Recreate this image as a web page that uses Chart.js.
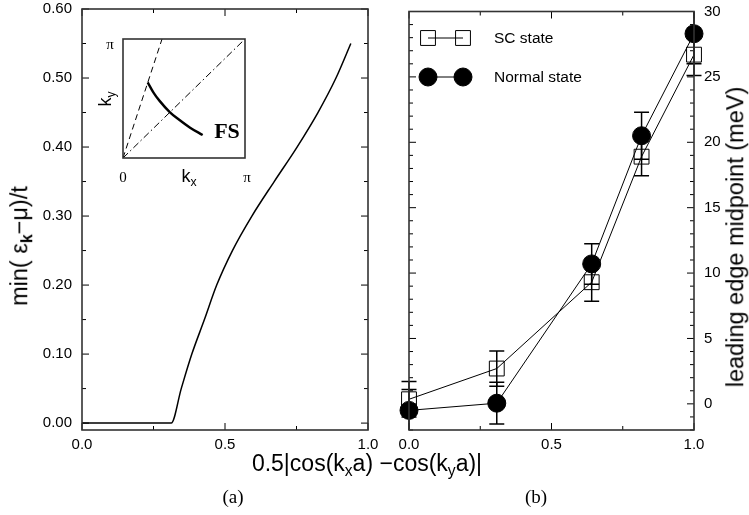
<!DOCTYPE html>
<html>
<head>
<meta charset="utf-8">
<script src="https://cdn.jsdelivr.net/npm/chart.js@4.4.1/dist/chart.umd.min.js"></script>
<style>
  body { margin: 0; background: #fff; width: 749px; height: 515px; position: relative; overflow: hidden; font-family: "Liberation Sans", Arial, sans-serif; }
  canvas { position: absolute; }
  .t { position: absolute; white-space: nowrap; color: #000; line-height: 1; transform: translate(-50%, -50%); z-index: 2; }
  .rot { transform: translate(-50%, -50%) rotate(-90deg); }
  .serif { font-family: "Liberation Serif", "DejaVu Serif", serif; }
  sub { font-size: 0.68em; vertical-align: -0.32em; line-height: 0; }
</style>
</head>
<body>
<canvas id="chartA" width="380" height="460" style="left:0;top:0"></canvas>
<canvas id="chartB" width="369" height="460" style="left:380px;top:0"></canvas>
<canvas id="inset" width="124" height="121" style="left:122px;top:38px"></canvas>

<div class="t rot" style="left:20px;top:246px;font-size:23.5px">min( ε<sub><b>k</b></sub>−μ)/t</div>
<div class="t rot" style="left:736px;top:237px;font-size:23.5px">leading edge midpoint (meV)</div>
<div class="t" style="left:367px;top:463px;font-size:23px">0.5|cos(k<sub>x</sub>a) −cos(k<sub>y</sub>a)|</div>
<div class="t serif" style="left:233px;top:496px;font-size:19px">(a)</div>
<div class="t serif" style="left:536px;top:496px;font-size:19px">(b)</div>

<div class="t serif" style="left:110px;top:44px;font-size:15px">π</div>
<div class="t serif" style="left:123px;top:177px;font-size:15px">0</div>
<div class="t serif" style="left:247px;top:177px;font-size:15px">π</div>
<div class="t" style="left:189px;top:176px;font-size:18px">k<sub>x</sub></div>
<div class="t rot" style="left:105px;top:99px;font-size:18px">k<sub>y</sub></div>
<div class="t serif" style="left:227px;top:131px;font-size:22px;font-weight:bold">FS</div>

<script>
// panel (a): min(eps_k - mu)/t along the Fermi surface
const curveX = [0, 0.312, 0.347, 0.384, 0.428, 0.471, 0.526, 0.594, 0.672, 0.752, 0.825, 0.888, 0.940];
const curveY = [0, 0, 0.05, 0.10, 0.15, 0.20, 0.25, 0.30, 0.35, 0.40, 0.45, 0.50, 0.55];

// inset: Fermi surface in units of pi
const fsX = [0.2025, 0.25, 0.30, 0.385, 0.45, 0.55, 0.653];
const fsY = [0.636, 0.55, 0.48, 0.384, 0.33, 0.255, 0.193];
const dashX = [0, 0.32];
const dashY = [0, 1];
const diagX = [0, 1];
const diagY = [0, 1];

// panel (b): leading edge midpoint (meV)
const cutX = [0, 0.308, 0.641, 0.816, 1.0];
const scState = [0.35, 2.7, 9.3, 18.9, 26.7];
const scErr = [1.35, 1.35, 1.45, 1.45, 1.6];
const normalState = [-0.5, 0.05, 10.7, 20.5, 28.3];
const normalErr = [1.6, 1.6, 1.55, 1.8, 2.3];

// ticks
const xMajor = [0, 0.5, 1.0];
const xMinor = [0.25, 0.75];
const aYMajor = [0, 0.1, 0.2, 0.3, 0.4, 0.5, 0.6];
const aYMinor = [0.05, 0.15, 0.25, 0.35, 0.45, 0.55];
const bYMajor = [0, 5, 10, 15, 20, 25, 30];
const bYMinor = [-2, -1, 1, 2, 3, 4, 6, 7, 8, 9, 11, 12, 13, 14, 16, 17, 18, 19, 21, 22, 23, 24, 26, 27, 28, 29];

const toPoints = (xs, ys) => xs.map((x, i) => ({ x: x, y: ys[i] }));
const tickFont = { family: '"Liberation Sans", Arial, sans-serif', size: 15 };

// inward ticks on all four sides plus the box frame
const frameTicks = {
    id: 'frameTicks',
    afterDraw(chart, args, opts) {
        if (!opts.xMajor) return;
        const { ctx, chartArea: a } = chart;
        const xs = chart.scales.x, ys = chart.scales.y;
        ctx.save();
        ctx.strokeStyle = '#000';
        ctx.lineWidth = 1;
        ctx.beginPath();
        const xTick = (v, len) => {
            const p = xs.getPixelForValue(v);
            ctx.moveTo(p, a.bottom); ctx.lineTo(p, a.bottom - len);
            ctx.moveTo(p, a.top); ctx.lineTo(p, a.top + len);
        };
        const yTick = (v, len) => {
            const p = ys.getPixelForValue(v);
            ctx.moveTo(a.left, p); ctx.lineTo(a.left + len, p);
            ctx.moveTo(a.right, p); ctx.lineTo(a.right - len, p);
        };
        opts.xMajor.forEach(v => xTick(v, 7));
        opts.xMinor.forEach(v => xTick(v, 4));
        opts.yMajor.forEach(v => yTick(v, 7));
        opts.yMinor.forEach(v => yTick(v, 4));
        ctx.stroke();
        ctx.strokeStyle = '#333';
        ctx.lineWidth = 1.6;
        ctx.strokeRect(a.left, a.top, a.right - a.left, a.bottom - a.top);
        ctx.restore();
    }
};

const errorBars = {
    id: 'errorBars',
    afterDatasetsDraw(chart) {
        const { ctx, chartArea: a } = chart;
        const xs = chart.scales.x, ys = chart.scales.y;
        ctx.save();
        ctx.beginPath();
        ctx.rect(a.left - 10, a.top, a.right - a.left + 20, a.bottom - a.top);
        ctx.clip();
        ctx.strokeStyle = '#000';
        ctx.lineWidth = 1.5;
        chart.data.datasets.forEach(ds => {
            if (!ds.errors) return;
            ds.data.forEach((pt, i) => {
                const e = ds.errors[i];
                const x = xs.getPixelForValue(pt.x);
                const lo = ys.getPixelForValue(pt.y - e);
                const hi = ys.getPixelForValue(pt.y + e);
                ctx.beginPath();
                ctx.moveTo(x, lo); ctx.lineTo(x, hi);
                ctx.moveTo(x - 7.5, lo); ctx.lineTo(x + 7.5, lo);
                ctx.moveTo(x - 7.5, hi); ctx.lineTo(x + 7.5, hi);
                ctx.stroke();
            });
        });
        ctx.restore();
    }
};

// legend drawn as marker - line - marker, like the original
const pairLegend = {
    id: 'pairLegend',
    afterDraw(chart, args, opts) {
        if (!opts.x1) return;
        const ctx = chart.ctx;
        chart.data.datasets.forEach((ds, i) => {
            const y = opts.y0 + i * opts.dy;
            ctx.save();
            ctx.strokeStyle = '#000';
            ctx.lineWidth = 1;
            ctx.beginPath();
            ctx.moveTo(opts.x1, y); ctx.lineTo(opts.x2, y);
            ctx.stroke();
            ctx.fillStyle = ds.pointBackgroundColor;
            ctx.strokeStyle = ds.pointBorderColor;
            [opts.x1, opts.x2].forEach(x => {
                Chart.helpers.drawPoint(ctx, { pointStyle: ds.pointStyle, radius: ds.pointRadius, borderWidth: 1, rotation: 0 }, x, y);
            });
            ctx.fillStyle = '#000';
            ctx.font = '15.5px "Liberation Sans", Arial, sans-serif';
            ctx.textBaseline = 'middle';
            ctx.textAlign = 'left';
            ctx.fillText(ds.label, opts.tx, y + 1);
            ctx.restore();
        });
    }
};

Chart.register(frameTicks, errorBars, pairLegend);

const fixTicks = values => scale => { scale.ticks = values.map(v => ({ value: v })); };

// panel (a)
new Chart(document.getElementById('chartA'), {
    type: 'scatter',
    data: {
        datasets: [{
            data: toPoints(curveX, curveY),
            showLine: true,
            borderColor: '#000',
            borderWidth: 1.5,
            pointRadius: 0,
            cubicInterpolationMode: 'monotone'
        }]
    },
    options: {
        responsive: false,
        animation: false,
        layout: { padding: { left: 0, top: 9, right: 12, bottom: 0 } },
        plugins: {
            legend: { display: false },
            tooltip: { enabled: false },
            frameTicks: { xMajor: xMajor, xMinor: xMinor, yMajor: aYMajor, yMinor: aYMinor }
        },
        scales: {
            x: {
                type: 'linear', min: 0, max: 1,
                grid: { display: false, drawTicks: false }, border: { display: false },
                ticks: { font: tickFont, color: '#000', padding: 6, maxRotation: 0, callback: v => v.toFixed(1) },
                afterBuildTicks: fixTicks(xMajor),
                afterFit: s => { s.height = 30; s.paddingLeft = 0; s.paddingRight = 0; }
            },
            y: {
                type: 'linear', min: -0.01, max: 0.6,
                grid: { display: false, drawTicks: false }, border: { display: false },
                ticks: { font: tickFont, color: '#000', padding: 10, callback: v => v.toFixed(2) },
                afterBuildTicks: fixTicks(aYMajor),
                afterFit: s => { s.width = 82; s.paddingTop = 0; s.paddingBottom = 0; }
            }
        }
    }
});

// inset
new Chart(document.getElementById('inset'), {
    type: 'scatter',
    data: {
        datasets: [
            { data: toPoints(dashX, dashY), showLine: true, borderColor: '#000', borderWidth: 1, borderDash: [6, 4], pointRadius: 0 },
            { data: toPoints(diagX, diagY), showLine: true, borderColor: '#000', borderWidth: 1, borderDash: [7, 3, 1.5, 3], pointRadius: 0 },
            { data: toPoints(fsX, fsY), showLine: true, borderColor: '#000', borderWidth: 2.4, pointRadius: 0, cubicInterpolationMode: 'monotone' }
        ]
    },
    options: {
        responsive: false,
        animation: false,
        layout: { padding: 1 },
        plugins: {
            legend: { display: false },
            tooltip: { enabled: false },
            frameTicks: { xMajor: [], xMinor: [], yMajor: [], yMinor: [] }
        },
        scales: {
            x: { type: 'linear', min: 0, max: 1, display: false },
            y: { type: 'linear', min: 0, max: 1, display: false }
        }
    }
});

// panel (b)
new Chart(document.getElementById('chartB'), {
    type: 'scatter',
    data: {
        datasets: [
            {
                label: 'SC state',
                data: toPoints(cutX, scState),
                errors: scErr,
                showLine: true,
                borderColor: '#000',
                borderWidth: 1,
                pointStyle: 'rect',
                pointRadius: 10.5,
                pointBorderWidth: 1,
                pointBorderColor: '#000',
                pointBackgroundColor: 'rgba(0,0,0,0)',
                clip: false
            },
            {
                label: 'Normal state',
                data: toPoints(cutX, normalState),
                errors: normalErr,
                showLine: true,
                borderColor: '#000',
                borderWidth: 1,
                pointStyle: 'circle',
                pointRadius: 9,
                pointBorderWidth: 1,
                pointBorderColor: '#000',
                pointBackgroundColor: '#000',
                clip: false
            }
        ]
    },
    options: {
        responsive: false,
        animation: false,
        layout: { padding: { left: 29, top: 9, right: 0, bottom: 0 } },
        plugins: {
            legend: { display: false },
            tooltip: { enabled: false },
            frameTicks: { xMajor: xMajor, xMinor: xMinor, yMajor: bYMajor, yMinor: bYMinor },
            pairLegend: { x1: 48, x2: 83, y0: 38, dy: 39, tx: 114 }
        },
        scales: {
            x: {
                type: 'linear', min: 0, max: 1,
                grid: { display: false, drawTicks: false }, border: { display: false },
                ticks: { font: tickFont, color: '#000', padding: 6, maxRotation: 0, callback: v => v.toFixed(1) },
                afterBuildTicks: fixTicks(xMajor),
                afterFit: s => { s.height = 30; s.paddingLeft = 0; s.paddingRight = 0; }
            },
            y: {
                type: 'linear', position: 'right', min: -2, max: 30,
                grid: { display: false, drawTicks: false }, border: { display: false },
                ticks: { font: tickFont, color: '#000', padding: 10, callback: v => String(v) },
                afterBuildTicks: fixTicks(bYMajor),
                afterFit: s => { s.width = 55; s.paddingTop = 0; s.paddingBottom = 0; }
            }
        }
    }
});
</script>
</body>
</html>
